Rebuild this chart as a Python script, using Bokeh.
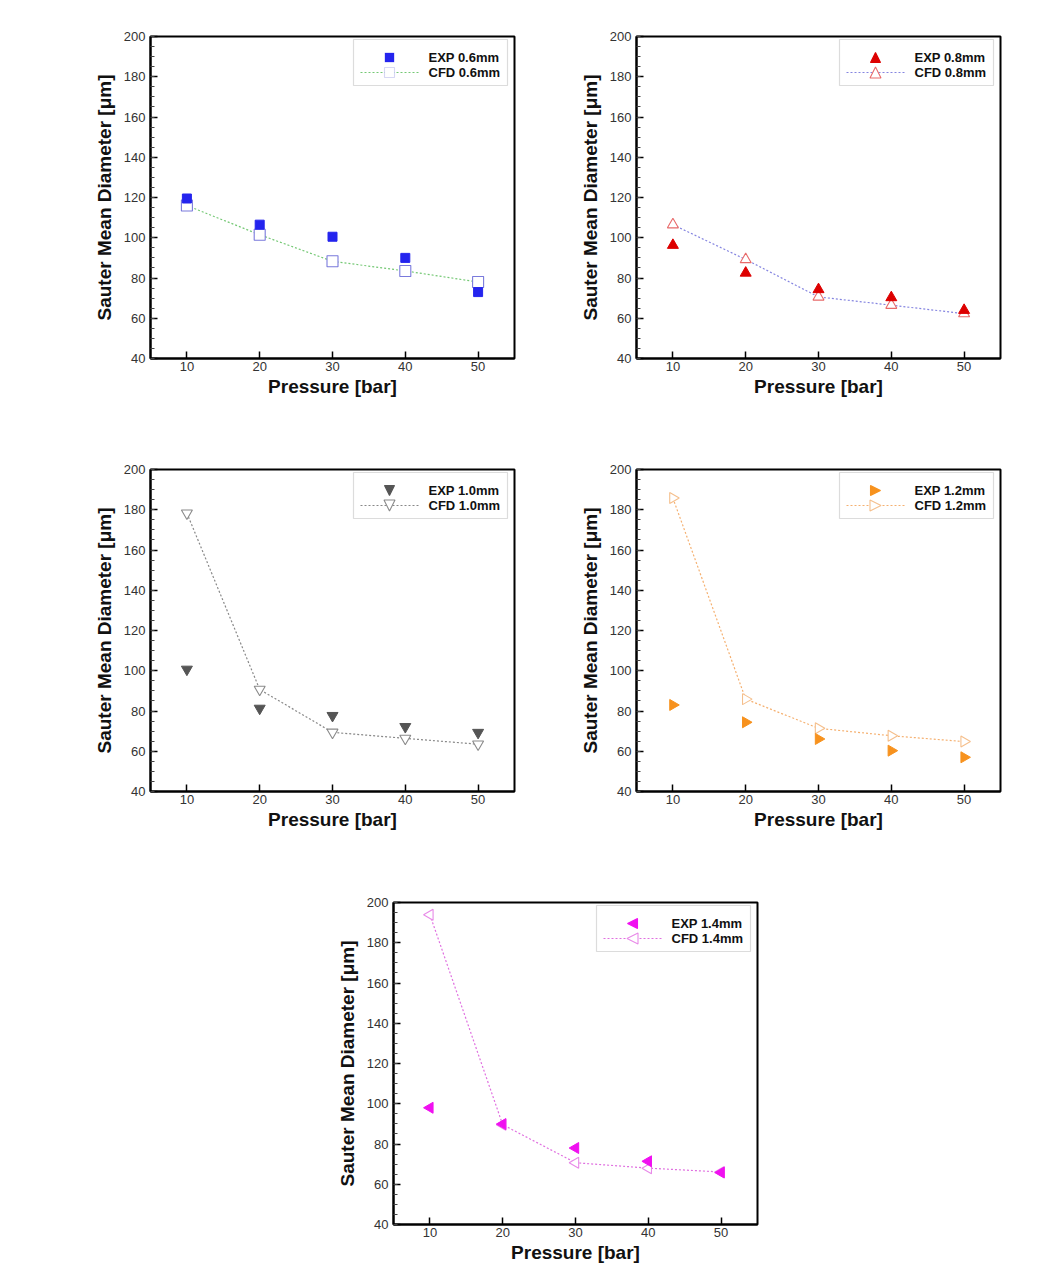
import math
from bokeh.plotting import figure
from bokeh.models import (SingleIntervalTicker, FixedTicker, Spacer, Range1d,
                          BoxAnnotation, Arrow, NormalHead, Label)
from bokeh.layouts import column, row
from bokeh.embed import file_html
from bokeh.resources import INLINE

pressure = [10, 20, 30, 40, 50]
pressure_ticks = [10, 20, 30, 40, 50]

exp_06 = [119.5, 106.5, 100.5, 90.0, 73.0]
cfd_06 = [116.0, 101.5, 88.3, 83.5, 78.0]

exp_08 = [96.3, 82.5, 74.3, 70.3, 64.0]
cfd_08 = [106.5, 89.2, 70.6, 66.5, 62.3]

exp_10 = [100.7, 81.3, 77.7, 72.2, 69.3]
cfd_10 = [178.3, 90.7, 69.4, 66.4, 63.5]

exp_12 = [83.0, 74.4, 66.1, 60.3, 57.0]
cfd_12 = [185.8, 85.9, 71.4, 67.7, 64.8]

exp_14 = [98.0, 89.9, 78.0, 71.4, 65.8]
cfd_14 = [193.9, 89.6, 70.7, 68.0, 66.1]

FONT = "Liberation Sans"
FRAME_W = 364
FRAME_H = 322

# marker kind -> (bokeh marker, angle, legend direction)
KINDS = {
    "square": ("square", 0.0, None),
    "up": ("triangle", 0.0, (0, 1)),
    "down": ("inverted_triangle", 0.0, (0, -1)),
    "right": ("triangle", -math.pi / 2, (1, 0)),
    "left": ("triangle", math.pi / 2, (-1, 0)),
}


def sy(y_from_top):
    return FRAME_H - y_from_top


def legend_marker(p, kind, cx, cy_top, size, fill_color, fill_alpha, line_color):
    cy = sy(cy_top)
    direction = KINDS[kind][2]
    if direction is None:
        p.add_layout(BoxAnnotation(
            left=cx - size / 2, right=cx + size / 2,
            bottom=cy - size / 2, top=cy + size / 2,
            left_units="screen", right_units="screen",
            top_units="screen", bottom_units="screen",
            fill_color=fill_color, fill_alpha=fill_alpha,
            line_color=line_color, line_width=1.1))
    else:
        dx, dy = direction
        head = NormalHead(size=size, fill_color=fill_color, fill_alpha=fill_alpha,
                          line_color=line_color, line_width=1.1)
        p.add_layout(Arrow(
            x_start=cx - dx * size / 2, y_start=cy - dy * size / 2,
            x_end=cx + dx * size / 2, y_end=cy + dy * size / 2,
            start_units="screen", end_units="screen",
            start=None, end=head, line_alpha=0.0))


def add_legend(p, tag, kind, exp_color, cfd_marker_color, cfd_line_color):
    p.add_layout(BoxAnnotation(
        left=203, right=357, top=sy(3), bottom=sy(49),
        left_units="screen", right_units="screen",
        top_units="screen", bottom_units="screen",
        fill_color="white", fill_alpha=1.0,
        line_color="#8c8c8c", line_width=1.2))
    p.add_layout(Arrow(
        x_start=210, y_start=sy(36), x_end=268, y_end=sy(36),
        start_units="screen", end_units="screen", start=None, end=None,
        line_color=cfd_line_color, line_width=1.2, line_dash="2 2"))
    msize = 9 if kind == "square" else 10
    legend_marker(p, kind, 239, 21, msize, exp_color, 1.0, exp_color)
    legend_marker(p, kind, 239, 36, msize + 1, "white", 1.0, cfd_marker_color)
    for text, ytop in (("EXP " + tag, 21), ("CFD " + tag, 36)):
        p.add_layout(Label(
            x=278, y=sy(ytop), x_units="screen", y_units="screen", text=text,
            text_font=FONT, text_font_size="13px", text_font_style="bold",
            text_baseline="middle", text_color="#111111"))


def make_panel(exp, cfd, tag, kind, exp_color, cfd_marker_color,
               cfd_line_color, exp_size, bottom=83):
    marker, angle, _ = KINDS[kind]
    p = figure(width=80 + FRAME_W + 42, height=28 + FRAME_H + bottom,
               x_range=Range1d(5, 55), y_range=Range1d(40, 200),
               output_backend="svg", toolbar_location=None,
               min_border_left=80, min_border_right=42,
               min_border_top=28, min_border_bottom=bottom)
    p.grid.visible = False
    p.outline_line_color = "black"
    p.outline_line_width = 2
    p.background_fill_color = "white"
    p.border_fill_color = "white"

    p.line(pressure, cfd, line_color=cfd_line_color, line_width=1.2,
           line_dash="2 2")
    p.scatter(pressure, cfd, marker=marker, angle=angle, size=11,
              fill_color="white", fill_alpha=1.0,
              line_color=cfd_marker_color, line_width=1.1)
    p.scatter(pressure, exp, marker=marker, angle=angle, size=exp_size,
              fill_color=exp_color, line_color=exp_color)

    p.xaxis.ticker = FixedTicker(ticks=pressure_ticks, minor_ticks=[])
    p.yaxis.ticker = SingleIntervalTicker(interval=20, num_minor_ticks=4)
    for ax in (p.xaxis[0], p.yaxis[0]):
        ax.axis_line_width = 2
        ax.axis_line_color = "black"
        ax.major_tick_in = 7
        ax.major_tick_out = 0
        ax.minor_tick_in = 4
        ax.minor_tick_out = 0
        ax.major_tick_line_width = 1.5
        ax.minor_tick_line_width = 1
        ax.major_tick_line_color = "black"
        ax.minor_tick_line_color = "#444444"
        ax.major_label_text_font = FONT
        ax.major_label_text_font_size = "13px"
        ax.major_label_text_color = "#333333"
        ax.axis_label_text_font = FONT
        ax.axis_label_text_font_size = "19px"
        ax.axis_label_text_font_style = "bold"
        ax.axis_label_text_color = "#111111"
    p.xaxis.axis_label = "Pressure [bar]"
    p.yaxis.axis_label = "Sauter Mean Diameter [μm]"
    p.xaxis.major_label_standoff = 3
    p.xaxis.axis_label_standoff = 2
    p.yaxis.major_label_standoff = 5
    p.yaxis.axis_label_standoff = 6

    add_legend(p, tag, kind, exp_color, cfd_marker_color, cfd_line_color)
    return p


p1 = make_panel(exp_06, cfd_06, "0.6mm", "square",
                "#2424ee", "#7a7adc", "#74c874", 9)
p2 = make_panel(exp_08, cfd_08, "0.8mm", "up",
                "#dd0000", "#e86a6a", "#8585e0", 11)
p3 = make_panel(exp_10, cfd_10, "1.0mm", "down",
                "#555555", "#8a8a8a", "#888888", 11)
p4 = make_panel(exp_12, cfd_12, "1.2mm", "right",
                "#f7921e", "#f5bf8c", "#f5b070", 11)
p5 = make_panel(exp_14, cfd_14, "1.4mm", "left",
                "#f010f0", "#e88ae8", "#e070e0", 11, bottom=45)

layout = column(
    Spacer(width=10, height=8),
    row(Spacer(width=70, height=10), p1, p2),
    row(Spacer(width=70, height=10), p3, p4),
    row(Spacer(width=313, height=10), p5),
)

open("out.html", "w").write(file_html(layout, INLINE))
